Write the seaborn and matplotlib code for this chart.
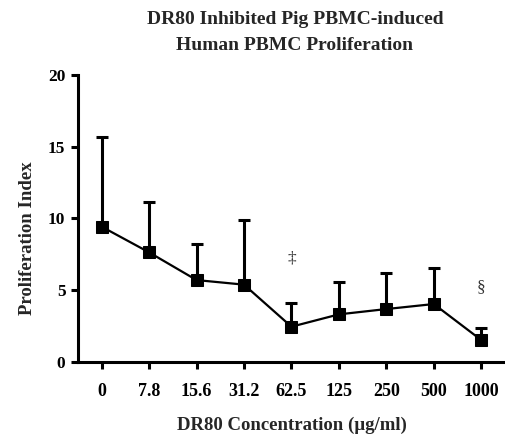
import numpy as np
import pandas as pd
import matplotlib
matplotlib.use("Agg")
import matplotlib.pyplot as plt
import seaborn as sns

# Proliferation index (mean and upper SD) per DR80 concentration
concentrations = ["0", "7.8", "15.6", "31.2", "62.5", "125", "250", "500", "1000"]
mean_index = [9.43, 7.64, 5.71, 5.39, 2.46, 3.32, 3.69, 4.04, 1.53]
upper_sd = [6.23, 3.49, 2.49, 4.51, 1.67, 2.23, 2.49, 2.49, 0.82]

# Significance markers: (category, height, symbol)
sig_labels = ["62.5", "1000"]
sig_heights = [7.2, 5.2]
sig_symbols = ["\u2021", "\u00a7"]

sns.set_theme(style="ticks")
plt.rcParams["font.family"] = ["Liberation Serif", "DejaVu Serif"]
plt.rcParams["font.weight"] = "bold"

df = pd.DataFrame({
    "conc": concentrations,
    "pos": np.arange(len(concentrations)),
    "index": mean_index,
    "sd": upper_sd,
})

fig = plt.figure(figsize=(5.06, 4.38), dpi=100)
ax = fig.add_axes([0.154, 0.1735, 0.844, 0.6553])

# One-sided (upper) error bars beneath the markers
ax.errorbar(df["pos"], df["index"], yerr=[np.zeros(len(df)), df["sd"]],
            fmt="none", ecolor="black", elinewidth=2.2, capsize=4.3,
            capthick=2.2, zorder=2)

sns.lineplot(data=df, x="pos", y="index", ax=ax, color="black",
             linewidth=1.6, marker="s", markersize=8.8,
             markeredgecolor="black", markerfacecolor="black", zorder=3)

for lab, h, sym in zip(sig_labels, sig_heights, sig_symbols):
    ax.text(concentrations.index(lab), h, sym, ha="center", va="center",
            fontsize=12.5, fontweight="normal", color="#333333")

ax.set_xlim(-0.5, len(concentrations) - 0.5)
ax.set_ylim(0, 20)
ax.set_xticks(df["pos"])
ax.set_xticklabels(concentrations, fontsize=13, fontweight="bold")
ax.set_yticks([0, 5, 10, 15, 20])
ax.set_yticklabels(["0", "5", "10", "15", "20"], fontsize=12.5, fontweight="bold")

for side in ("top", "right"):
    ax.spines[side].set_visible(False)
for side in ("left", "bottom"):
    ax.spines[side].set_linewidth(2.2)
    ax.spines[side].set_color("black")
ax.tick_params(axis="both", direction="out", length=5, width=2.2,
               color="black", labelcolor="black")
ax.tick_params(axis="x", pad=10)
ax.tick_params(axis="y", pad=4)

ax.set_xlabel("DR80 Concentration (\u00b5g/ml)", fontsize=13.5,
              fontweight="bold", labelpad=12)
ax.set_ylabel("Proliferation Index", fontsize=13.5, fontweight="bold")
ax.yaxis.set_label_coords(-0.098, 0.43)

fig.text(0.583, 0.955, "DR80 Inhibited Pig PBMC-induced", ha="center",
         va="center", fontsize=14, fontweight="bold")
fig.text(0.583, 0.897, "Human PBMC Proliferation", ha="center",
         va="center", fontsize=14, fontweight="bold")

fig.savefig("out.png", dpi=100, facecolor="white")
